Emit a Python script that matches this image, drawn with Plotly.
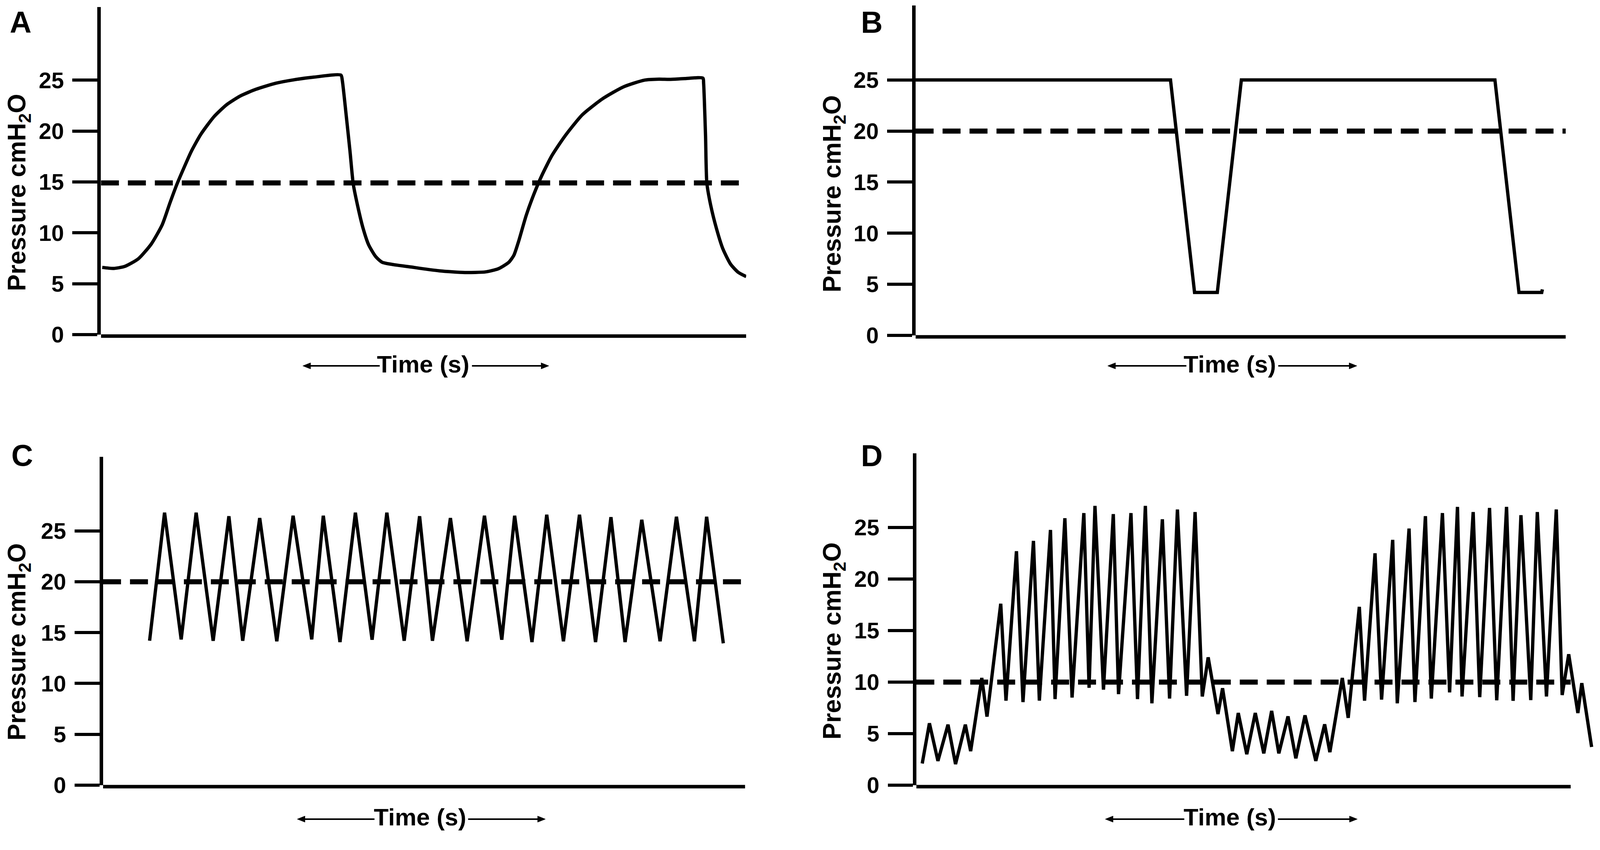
import plotly.graph_objects as go

# ---- data (time in % of axis width, pressure in cmH2O) ----
a_time = [0.2, 1.95, 3.7, 5.8, 7.8, 9.5, 10.7, 11.76, 12.8, 14.0, 15.5, 17.5, 19.5, 21.6, 24.0, 27.1,
          30.0, 33.0, 37.2, 37.4, 38.0, 38.6, 39.1, 39.8, 40.6, 41.5, 42.6, 43.6, 48.5, 52.5, 56.4,
          59.6, 61.6, 63.2, 64.0, 64.7, 65.9, 67.1, 68.3, 69.9, 71.9, 74.6, 77.8, 81.0, 84.2, 86.5,
          88.1, 90.5, 93.3, 93.4, 93.7, 93.9, 94.5, 95.4, 96.4, 97.6, 98.8, 100.0]
a_pressure = [6.6, 6.5, 6.7, 7.45, 8.9, 10.8, 12.95, 14.75, 16.3, 18.0, 19.7, 21.4, 22.6, 23.45, 24.1, 24.7,
              25.05, 25.3, 25.5, 25.0, 21.6, 18.0, 14.8, 12.6, 10.5, 8.8, 7.65, 7.1, 6.6, 6.26, 6.1,
              6.16, 6.47, 7.1, 7.8, 9.1, 11.7, 13.8, 15.6, 17.6, 19.5, 21.6, 23.2, 24.35, 25.0, 25.1,
              25.08, 25.16, 25.2, 24.7, 19.5, 14.9, 12.7, 10.4, 8.4, 6.9, 6.1, 5.7]

b_time = [0, 39.2, 42.9, 46.4, 50.1, 89.1, 92.8, 96.3, 96.4]
b_pressure = [25, 25, 4.2, 4.2, 25, 25, 4.2, 4.2, 4.5]

c_time = [7.25, 9.58, 12.17, 14.5, 17.15, 19.6, 21.75, 24.4, 27.06, 29.6, 32.5, 34.3, 36.9, 39.3,
          41.9, 44.2, 46.9, 49.3, 51.3, 54.1, 56.7, 59.4, 62.1, 64.1, 66.8, 69.1, 71.7, 74.2, 76.7,
          79.1, 81.3, 83.9, 86.75, 89.3, 92.1, 94.0, 96.6]
c_pressure = [14.2, 26.8, 14.33, 26.8, 14.2, 26.45, 14.2, 26.27, 14.15, 26.5, 14.33, 26.5, 14.07, 26.8,
              14.3, 26.8, 14.2, 26.45, 14.2, 26.27, 14.15, 26.5, 14.3, 26.5, 14.07, 26.6, 14.15, 26.6,
              14.07, 26.36, 14.07, 26.1, 14.15, 26.4, 14.15, 26.4, 13.95]

d_time = [0.9, 2.0, 3.3, 4.84, 5.99, 7.49, 8.3, 10.0, 10.8, 12.9, 13.7, 15.3, 16.3, 17.9, 18.8, 20.5,
          21.2, 22.7, 23.8, 25.6, 26.4, 27.3, 28.6, 30.1, 30.9, 32.8, 33.8, 35.0, 36.0, 37.6, 38.7,
          39.9, 41.3, 42.6, 43.7, 44.6, 46.1, 46.8, 48.3, 49.2, 50.5, 51.8, 53.1, 54.3, 55.4, 56.8,
          58.0, 59.4, 61.05, 62.4, 63.2, 65.1, 66.0, 67.7, 68.5, 70.1, 71.1, 72.8, 73.5, 75.3, 76.2,
          77.8, 78.7, 80.4, 81.5, 82.7, 83.4, 85.1, 86.1, 87.6, 88.7, 90.2, 91.2, 92.4, 93.9, 94.9,
          96.3, 97.8, 98.7, 99.7, 101.1, 101.7, 103.2]
d_pressure = [2.1, 6.0, 2.35, 5.87, 2.04, 5.87, 3.3, 10.4, 6.65, 17.6, 8.2, 22.7, 8.06, 23.7, 8.2, 24.76,
              8.35, 25.9, 8.5, 26.4, 9.44, 27.1, 9.27, 26.3, 8.83, 26.4, 8.35, 27.1, 7.94, 25.8, 8.4,
              26.75, 8.67, 26.5, 8.6, 12.4, 6.9, 9.4, 3.3, 7.0, 3.0, 7.0, 3.08, 7.2, 3.08, 6.67,
              2.6, 6.77, 2.35, 5.9, 3.2, 10.4, 6.53, 17.3, 8.2, 22.5, 8.3, 23.8, 7.94, 24.9, 8.06,
              26.1, 8.4, 26.4, 9.0, 27.0, 8.6, 26.5, 8.54, 26.9, 8.23, 27.0, 8.18, 26.2, 8.25, 26.5,
              8.6, 26.75, 8.74, 12.7, 7.0, 9.9, 3.7]

threshold = {"A": 14.9, "B": 20.0, "C": 20.0, "D": 10.0}
tick_values = [0, 5, 10, 15, 20, 25]
tick_text = ["0", "5", "10", "15", "20", "25"]

# reference frame in pixels (figure autosizes to the window, positions given as fractions of this)
W, H = 4562, 2177
FONT = "Liberation Sans, Arial, sans-serif"

panels = {
    "A": dict(x0=280, x1=2127, xr=2127, yb=868, yt=10, ymax=32.2, lab=(17, 50), title=(44, 496),
              tlab=(1203, 945), arrows=(858, 1078, 1342, 1562), shape="spline"),
    "B": dict(x0=2612, x1=4473, xr=4473, yb=870, yt=6, ymax=32.3, lab=(2453, 50),
              title=(2377, 499), tlab=(3512, 945), arrows=(3162, 3387, 3650, 3875), shape="linear"),
    "C": dict(x0=286, x1=2124, xr=2124, yb=2048, yt=1188, ymax=32.3, lab=(21, 1184), title=(44, 1673),
              tlab=(1194, 2132), arrows=(842, 1063, 1331, 1552), shape="linear"),
    "D": dict(x0=2614, x1=4487, xr=4552, yb=2048, yt=1179, ymax=32.2, lab=(2453, 1185),
              title=(2377, 1670), tlab=(3511, 2132), arrows=(3155, 3381, 3649, 3876), shape="linear"),
}
series = {"A": (a_time, a_pressure), "B": (b_time, b_pressure),
          "C": (c_time, c_pressure), "D": (d_time, d_pressure)}


def px(x):
    return x / W


def py(y):
    return 1 - y / H


def arrow(shapes, tail, head, y):
    # thin shaft plus a small filled head, in paper coordinates
    d = 1 if head > tail else -1
    hl, hw = 22, 8
    shapes.append(dict(type="line", xref="paper", yref="paper", x0=px(tail), x1=px(head - d * hl / 2),
                       y0=py(y), y1=py(y), line=dict(color="black", width=4)))
    path = "M %f,%f L %f,%f L %f,%f Z" % (px(head), py(y), px(head - d * hl), py(y - hw),
                                          px(head - d * hl), py(y + hw))
    shapes.append(dict(type="path", xref="paper", yref="paper", path=path,
                       fillcolor="black", line=dict(color="black", width=1)))


fig = go.Figure()
annotations = []
shapes = []

for i, (name, p) in enumerate(panels.items(), start=1):
    sfx = "" if i == 1 else str(i)
    xmax = 100 * (p["xr"] - p["x0"]) / (p["x1"] - p["x0"])
    t, v = series[name]

    fig.add_trace(go.Scatter(x=[0, 100], y=[threshold[name]] * 2, mode="lines",
                             line=dict(color="black", width=13, dash="46px,23px"),
                             xaxis="x" + sfx, yaxis="y" + sfx, showlegend=False, hoverinfo="skip"))
    fig.add_trace(go.Scatter(x=t, y=v, mode="lines",
                             line=dict(color="black", width=8.5, shape=p["shape"], smoothing=0.6),
                             xaxis="x" + sfx, yaxis="y" + sfx, showlegend=False))

    fig.layout["xaxis" + sfx] = dict(domain=[px(p["x0"]), px(p["xr"])], range=[0, xmax],
                                     anchor="y" + sfx, showline=False, showgrid=False,
                                     zeroline=False, showticklabels=False, ticks="")
    fig.layout["yaxis" + sfx] = dict(domain=[py(p["yb"]), py(p["yt"])], range=[0, p["ymax"]],
                                     anchor="x" + sfx, showline=True, linewidth=9, linecolor="black",
                                     showgrid=False, zeroline=False, ticks="outside", ticklen=64,
                                     tickwidth=8, tickcolor="black", tickvals=tick_values,
                                     ticktext=tick_text, ticklabelstandoff=10,
                                     tickfont=dict(family=FONT, size=58, color="black", weight="bold"))

    # x-axis base line, stops at the end of the time axis
    shapes.append(dict(type="line", xref="x" + sfx, yref="paper", x0=0, x1=100,
                       y0=py(p["yb"] + 4), y1=py(p["yb"] + 4), line=dict(color="black", width=9)))

    annotations.append(dict(text="<b>%s</b>" % name, x=px(p["lab"][0]), y=py(p["lab"][1]),
                            xref="paper", yref="paper", xanchor="left", yanchor="middle",
                            showarrow=False, font=dict(family=FONT, size=77, color="black")))
    annotations.append(dict(text="<b>Pressure cmH<sub>2</sub>O</b>", x=px(p["title"][0]),
                            y=py(p["title"][1]), xref="paper", yref="paper", textangle=-90,
                            xanchor="center", yanchor="middle", showarrow=False,
                            font=dict(family=FONT, size=64, color="black")))
    annotations.append(dict(text="<b>Time (s)</b>", x=px(p["tlab"][0]), y=py(p["tlab"][1]),
                            xref="paper", yref="paper", xanchor="center", yanchor="middle",
                            showarrow=False, font=dict(family=FONT, size=62, color="black")))
    la, lb, ra, rb = p["arrows"]
    ay = p["tlab"][1] + 5
    arrow(shapes, lb, la, ay)
    arrow(shapes, ra, rb, ay)

fig.update_layout(autosize=True, margin=dict(l=0, r=0, t=0, b=0),
                  paper_bgcolor="white", plot_bgcolor="white",
                  annotations=annotations, shapes=shapes)

fig.write_html("out.html")
